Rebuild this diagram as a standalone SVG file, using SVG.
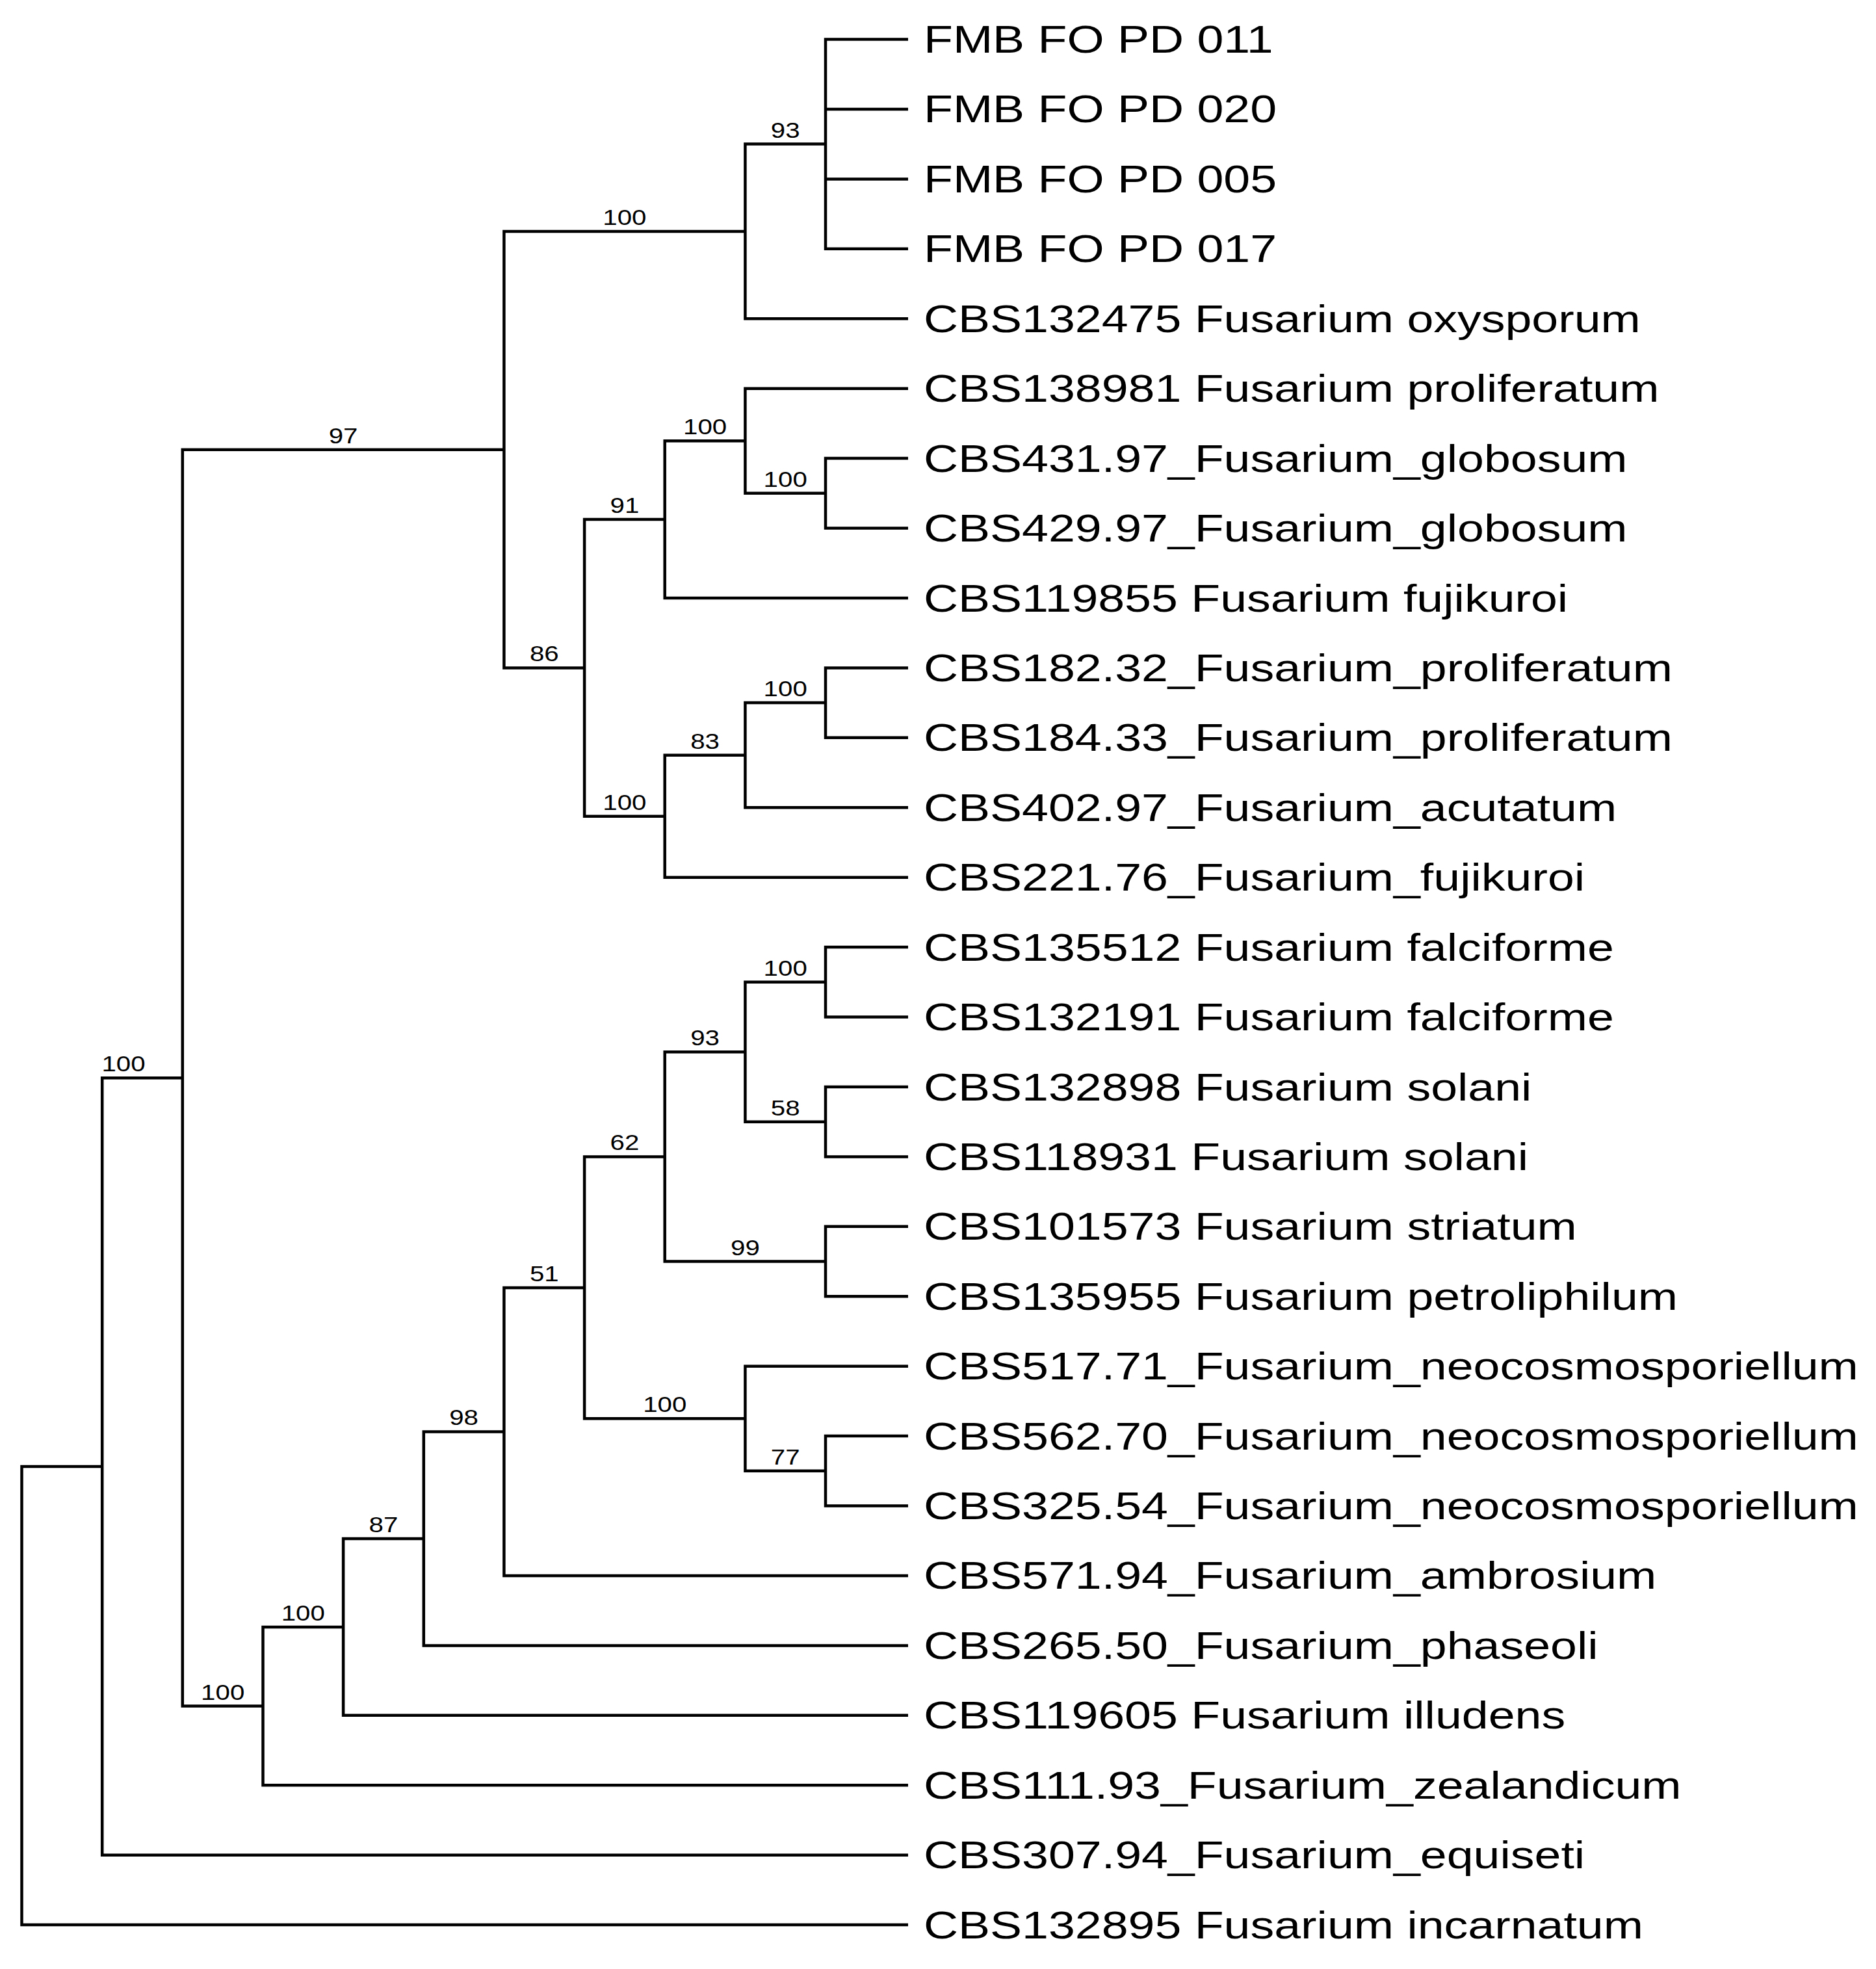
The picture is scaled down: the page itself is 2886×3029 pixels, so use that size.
<svg xmlns="http://www.w3.org/2000/svg" width="2886" height="3029" viewBox="0 0 2886 3029">
<style>
.br{fill:none;stroke:#000;stroke-width:4.5;stroke-linejoin:miter;stroke-linecap:butt}
.leaf{font-family:"Liberation Sans",Arial,sans-serif;font-size:60px;fill:#000}
.bs{font-family:"Liberation Sans",Arial,sans-serif;font-size:33px;fill:#000;text-anchor:middle}
</style>
<rect width="2886" height="3029" fill="#fff"/>
<g id="connectors">
<path class="br" d="M1397 60.5 H1270 V382.8 H1397 M1270 167.9 H1397 M1270 275.4 H1397"/>
<path class="br" d="M1270 221.6 H1146.4 V490.2 H1397"/>
<path class="br" d="M1397 705.1 H1270 V812.5 H1397"/>
<path class="br" d="M1397 597.7 H1146.4 V758.8 H1270"/>
<path class="br" d="M1146.4 678.2 H1022.7 V920 H1397"/>
<path class="br" d="M1397 1027.4 H1270 V1134.8 H1397"/>
<path class="br" d="M1270 1081.1 H1146.4 V1242.2 H1397"/>
<path class="br" d="M1146.4 1161.7 H1022.7 V1349.7 H1397"/>
<path class="br" d="M1022.7 799.1 H899.1 V1255.7 H1022.7"/>
<path class="br" d="M1146.4 355.9 H775.4 V1027.4 H899.1"/>
<path class="br" d="M1397 1457.1 H1270 V1564.5 H1397"/>
<path class="br" d="M1397 1672 H1270 V1779.4 H1397"/>
<path class="br" d="M1270 1510.8 H1146.4 V1725.7 H1270"/>
<path class="br" d="M1397 1886.8 H1270 V1994.2 H1397"/>
<path class="br" d="M1146.4 1618.3 H1022.7 V1940.5 H1270"/>
<path class="br" d="M1397 2209.1 H1270 V2316.5 H1397"/>
<path class="br" d="M1397 2101.7 H1146.4 V2262.8 H1270"/>
<path class="br" d="M1022.7 1779.4 H899.1 V2182.3 H1146.4"/>
<path class="br" d="M899.1 1980.9 H775.4 V2423.9 H1397"/>
<path class="br" d="M775.4 2202.4 H651.8 V2531.4 H1397"/>
<path class="br" d="M651.8 2366.9 H528.1 V2638.8 H1397"/>
<path class="br" d="M528.1 2502.9 H404.5 V2746.2 H1397"/>
<path class="br" d="M775.4 691.7 H280.8 V2624.6 H404.5"/>
<path class="br" d="M280.8 1658.2 H157.2 V2853.7 H1397"/>
<path class="br" d="M157.2 2256 H33.5 V2961.1 H1397"/>
</g>
<g id="node-bs93a"><text class="bs" transform="translate(1208.2 211.6) scale(1.22 1)">93</text></g>
<g id="node-bs100a"><text class="bs" transform="translate(960.9 345.9) scale(1.22 1)">100</text></g>
<g id="node-bs100b"><text class="bs" transform="translate(1208.2 748.8) scale(1.22 1)">100</text></g>
<g id="node-bs100c"><text class="bs" transform="translate(1084.6 668.2) scale(1.22 1)">100</text></g>
<g id="node-bs91"><text class="bs" transform="translate(960.9 789.1) scale(1.22 1)">91</text></g>
<g id="node-bs100d"><text class="bs" transform="translate(1208.2 1071.1) scale(1.22 1)">100</text></g>
<g id="node-bs83"><text class="bs" transform="translate(1084.6 1151.7) scale(1.22 1)">83</text></g>
<g id="node-bs100e"><text class="bs" transform="translate(960.9 1245.7) scale(1.22 1)">100</text></g>
<g id="node-bs86"><text class="bs" transform="translate(837.3 1017.4) scale(1.22 1)">86</text></g>
<g id="node-bs97"><text class="bs" transform="translate(528.1 681.7) scale(1.22 1)">97</text></g>
<g id="node-bs100g"><text class="bs" transform="translate(1208.2 1500.8) scale(1.22 1)">100</text></g>
<g id="node-bs58"><text class="bs" transform="translate(1208.2 1715.7) scale(1.22 1)">58</text></g>
<g id="node-bs93b"><text class="bs" transform="translate(1084.6 1608.3) scale(1.22 1)">93</text></g>
<g id="node-bs99"><text class="bs" transform="translate(1146.4 1930.5) scale(1.22 1)">99</text></g>
<g id="node-bs62"><text class="bs" transform="translate(960.9 1769.4) scale(1.22 1)">62</text></g>
<g id="node-bs77"><text class="bs" transform="translate(1208.2 2252.8) scale(1.22 1)">77</text></g>
<g id="node-bs100h"><text class="bs" transform="translate(1022.8 2172.3) scale(1.22 1)">100</text></g>
<g id="node-bs51"><text class="bs" transform="translate(837.3 1970.9) scale(1.22 1)">51</text></g>
<g id="node-bs98"><text class="bs" transform="translate(713.6 2192.4) scale(1.22 1)">98</text></g>
<g id="node-bs87"><text class="bs" transform="translate(590 2356.9) scale(1.22 1)">87</text></g>
<g id="node-bs100i"><text class="bs" transform="translate(466.3 2492.9) scale(1.22 1)">100</text></g>
<g id="node-bs100j"><text class="bs" transform="translate(342.7 2614.6) scale(1.22 1)">100</text></g>
<g id="node-bs100k"><text class="bs" transform="translate(190 1648.2) scale(1.22 1)">100</text></g>
<g id="leaf-00"><text class="leaf" transform="translate(1421 81) scale(1.225 1)">FMB FO PD 011</text></g>
<g id="leaf-01"><text class="leaf" transform="translate(1421 188.4) scale(1.225 1)">FMB FO PD 020</text></g>
<g id="leaf-02"><text class="leaf" transform="translate(1421 295.9) scale(1.225 1)">FMB FO PD 005</text></g>
<g id="leaf-03"><text class="leaf" transform="translate(1421 403.3) scale(1.225 1)">FMB FO PD 017</text></g>
<g id="leaf-04"><text class="leaf" transform="translate(1421 510.7) scale(1.225 1)">CBS132475 Fusarium oxysporum</text></g>
<g id="leaf-05"><text class="leaf" transform="translate(1421 618.2) scale(1.225 1)">CBS138981 Fusarium proliferatum</text></g>
<g id="leaf-06"><text class="leaf" transform="translate(1421 725.6) scale(1.225 1)">CBS431.97_Fusarium_globosum</text></g>
<g id="leaf-07"><text class="leaf" transform="translate(1421 833) scale(1.225 1)">CBS429.97_Fusarium_globosum</text></g>
<g id="leaf-08"><text class="leaf" transform="translate(1421 940.5) scale(1.225 1)">CBS119855 Fusarium fujikuroi</text></g>
<g id="leaf-09"><text class="leaf" transform="translate(1421 1047.9) scale(1.225 1)">CBS182.32_Fusarium_proliferatum</text></g>
<g id="leaf-10"><text class="leaf" transform="translate(1421 1155.3) scale(1.225 1)">CBS184.33_Fusarium_proliferatum</text></g>
<g id="leaf-11"><text class="leaf" transform="translate(1421 1262.7) scale(1.225 1)">CBS402.97_Fusarium_acutatum</text></g>
<g id="leaf-12"><text class="leaf" transform="translate(1421 1370.2) scale(1.225 1)">CBS221.76_Fusarium_fujikuroi</text></g>
<g id="leaf-13"><text class="leaf" transform="translate(1421 1477.6) scale(1.225 1)">CBS135512 Fusarium falciforme</text></g>
<g id="leaf-14"><text class="leaf" transform="translate(1421 1585) scale(1.225 1)">CBS132191 Fusarium falciforme</text></g>
<g id="leaf-15"><text class="leaf" transform="translate(1421 1692.5) scale(1.225 1)">CBS132898 Fusarium solani</text></g>
<g id="leaf-16"><text class="leaf" transform="translate(1421 1799.9) scale(1.225 1)">CBS118931 Fusarium solani</text></g>
<g id="leaf-17"><text class="leaf" transform="translate(1421 1907.3) scale(1.225 1)">CBS101573 Fusarium striatum</text></g>
<g id="leaf-18"><text class="leaf" transform="translate(1421 2014.7) scale(1.225 1)">CBS135955 Fusarium petroliphilum</text></g>
<g id="leaf-19"><text class="leaf" transform="translate(1421 2122.2) scale(1.225 1)">CBS517.71_Fusarium_neocosmosporiellum</text></g>
<g id="leaf-20"><text class="leaf" transform="translate(1421 2229.6) scale(1.225 1)">CBS562.70_Fusarium_neocosmosporiellum</text></g>
<g id="leaf-21"><text class="leaf" transform="translate(1421 2337) scale(1.225 1)">CBS325.54_Fusarium_neocosmosporiellum</text></g>
<g id="leaf-22"><text class="leaf" transform="translate(1421 2444.4) scale(1.225 1)">CBS571.94_Fusarium_ambrosium</text></g>
<g id="leaf-23"><text class="leaf" transform="translate(1421 2551.9) scale(1.225 1)">CBS265.50_Fusarium_phaseoli</text></g>
<g id="leaf-24"><text class="leaf" transform="translate(1421 2659.3) scale(1.225 1)">CBS119605 Fusarium illudens</text></g>
<g id="leaf-25"><text class="leaf" transform="translate(1421 2766.7) scale(1.225 1)">CBS111.93_Fusarium_zealandicum</text></g>
<g id="leaf-26"><text class="leaf" transform="translate(1421 2874.2) scale(1.225 1)">CBS307.94_Fusarium_equiseti</text></g>
<g id="leaf-27"><text class="leaf" transform="translate(1421 2981.6) scale(1.225 1)">CBS132895 Fusarium incarnatum</text></g>
</svg>
